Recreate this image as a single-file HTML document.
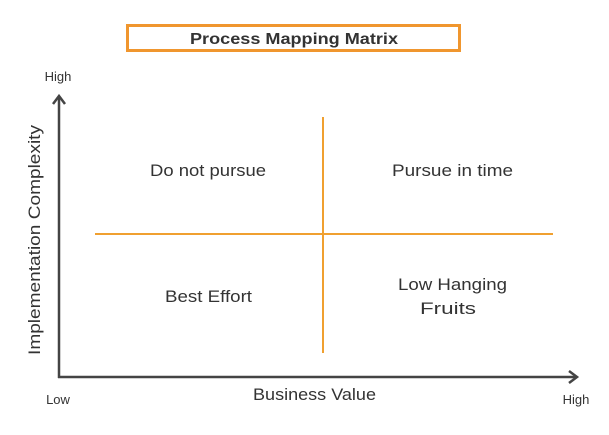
<!DOCTYPE html>
<html><head><style>
body{margin:0;background:#fff;}
svg text{font-family:"Liberation Sans",sans-serif;fill:#333;}
</style></head><body>
<svg width="609" height="430" viewBox="0 0 609 430" xmlns="http://www.w3.org/2000/svg">
<rect x="127.5" y="25.5" width="332" height="25" fill="#fff" stroke="#f0962e" stroke-width="3"/>
<text x="190" y="44" font-size="16" font-weight="bold" textLength="208" lengthAdjust="spacingAndGlyphs">Process Mapping Matrix</text>
<text x="58" y="81" font-size="13" text-anchor="middle">High</text>
<line x1="59" y1="96" x2="59" y2="378" stroke="#444" stroke-width="2.5"/>
<polyline points="53,104 59,96 65,104" fill="none" stroke="#444" stroke-width="2.5"/>
<line x1="58" y1="377" x2="577" y2="377" stroke="#444" stroke-width="2.5"/>
<polyline points="569,371 577,377 569,383" fill="none" stroke="#444" stroke-width="2.5"/>
<line x1="323" y1="117" x2="323" y2="353" stroke="#f0a030" stroke-width="2"/>
<line x1="95" y1="234" x2="553" y2="234" stroke="#f0a030" stroke-width="2"/>
<text x="150" y="176" font-size="17" textLength="116" lengthAdjust="spacingAndGlyphs">Do not pursue</text>
<text x="392" y="176" font-size="17" textLength="121" lengthAdjust="spacingAndGlyphs">Pursue in time</text>
<text x="165" y="302" font-size="17" textLength="87" lengthAdjust="spacingAndGlyphs">Best Effort</text>
<text x="398" y="290" font-size="17" textLength="109" lengthAdjust="spacingAndGlyphs">Low Hanging</text>
<text x="420" y="314" font-size="17" textLength="56" lengthAdjust="spacingAndGlyphs">Fruits</text>
<text x="0" y="0" font-size="17" text-anchor="middle" transform="translate(40,240) rotate(-90)" textLength="230" lengthAdjust="spacingAndGlyphs">Implementation Complexity</text>
<text x="58" y="404" font-size="13" text-anchor="middle">Low</text>
<text x="253" y="400" font-size="17" textLength="123" lengthAdjust="spacingAndGlyphs">Business Value</text>
<text x="576" y="404" font-size="13" text-anchor="middle">High</text>
</svg>
</body></html>
